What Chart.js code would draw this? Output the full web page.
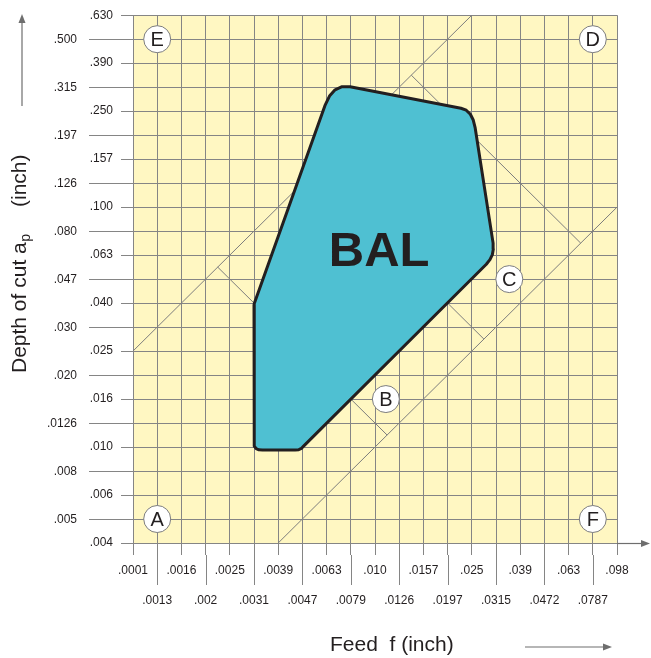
<!DOCTYPE html>
<html>
<head>
<meta charset="utf-8">
<script src="https://cdn.jsdelivr.net/npm/chart.js@4.4.1/dist/chart.umd.min.js"></script>
<style>
  html, body { margin: 0; padding: 0; background: #fff; }
  #wrap { width: 651px; height: 658px; }
</style>
</head>
<body>
<div id="wrap"><canvas id="chart" width="651" height="658"></canvas></div>
<script>
// tick labels, one per grid line (the axes are evenly spaced steps)
const feedLabels = ['.0001', '.0013', '.0016', '.002', '.0025', '.0031', '.0039', '.0047', '.0063', '.0079',
    '.010', '.0126', '.0157', '.0197', '.025', '.0315', '.039', '.0472', '.063', '.0787', '.098'];
const depthLabels = ['.004', '.005', '.006', '.008', '.010', '.0126', '.016', '.020', '.025', '.030', '.040', '.047',
    '.063', '.080', '.100', '.126', '.157', '.197', '.250', '.315', '.390', '.500', '.630'];

// BAL working area outline, in grid steps (feed step, depth step), rounded corners traced
const balX = [5.0, 5.0, 5.02, 5.09, 5.2, 5.35, 6.7, 6.85, 6.96, 7.05,
    14.6, 14.75, 14.85, 14.89, 14.88, 14.14, 14.06, 13.94, 13.77, 13.55,
    8.97, 8.64, 8.35, 8.12, 7.93, 5.0];
const balY = [9.95, 4.25, 4.04, 3.93, 3.885, 3.88, 3.88, 3.89, 3.94, 4.04,
    11.62, 11.81, 12.02, 12.25, 12.5, 17.3, 17.63, 17.87, 18.04, 18.12,
    19.02, 19.02, 18.89, 18.63, 18.23, 9.95];

// thin guide lines
const upperX = [0, 14];
const upperY = [8, 22];
const lowerX = [6, 20];
const lowerY = [0, 14];
const crossTopX = [11.5, 18.5];
const crossTopY = [19.5, 12.5];
const crossLeftX = [3.5, 5];
const crossLeftY = [11.5, 10];
const crossBX = [9, 10.5];
const crossBY = [6, 4.5];
const crossCX = [13, 14.5];
const crossCY = [10, 8.5];

// lettered zones
const zoneNames = ['A', 'B', 'C', 'D', 'E', 'F'];
const zoneX = [1, 10.45, 15.55, 19, 1, 19];
const zoneY = [1, 6, 11, 21, 21, 1];

const FONT = '"Liberation Sans", Arial, Helvetica, sans-serif';
const INK = '#231f20';
const GRID = '#858585';

function points(xs, ys) {
    return xs.map((x, i) => ({ x: x, y: ys[i] }));
}

function guide(xs, ys) {
    return {
        data: points(xs, ys),
        showLine: true,
        borderColor: '#7d7d7d',
        borderWidth: 1,
        pointRadius: 0,
        fill: false,
        order: 3
    };
}

function arrow(ctx, x1, y1, x2, y2) {
    const a = Math.atan2(y2 - y1, x2 - x1);
    ctx.beginPath();
    ctx.moveTo(x1, y1);
    ctx.lineTo(x2 - 6 * Math.cos(a), y2 - 6 * Math.sin(a));
    ctx.stroke();
    ctx.beginPath();
    ctx.moveTo(x2, y2);
    ctx.lineTo(x2 - 9 * Math.cos(a) + 3.5 * Math.sin(a), y2 - 9 * Math.sin(a) - 3.5 * Math.cos(a));
    ctx.lineTo(x2 - 9 * Math.cos(a) - 3.5 * Math.sin(a), y2 - 9 * Math.sin(a) + 3.5 * Math.cos(a));
    ctx.closePath();
    ctx.fill();
}

const paperPlugin = {
    id: 'paper',
    beforeDraw(chart) {
        const { ctx, chartArea: a } = chart;
        ctx.save();
        ctx.fillStyle = '#fff7c2';
        ctx.fillRect(a.left, a.top, a.right - a.left, a.bottom - a.top);
        ctx.restore();
    },
    afterDatasetsDraw(chart) {
        const { ctx } = chart;
        const xs = chart.scales.x, ys = chart.scales.y;
        ctx.save();
        ctx.fillStyle = INK;
        ctx.textAlign = 'center';
        ctx.textBaseline = 'middle';
        ctx.font = '20px ' + FONT;
        zoneNames.forEach((name, i) => {
            ctx.fillText(name, xs.getPixelForValue(zoneX[i]), ys.getPixelForValue(zoneY[i]) + 1);
        });
        ctx.font = 'bold 49px ' + FONT;
        ctx.fillText('BAL', xs.getPixelForValue(10.17), ys.getPixelForValue(12.19) + 2);
        ctx.restore();
    },
    afterDraw(chart) {
        const { ctx, chartArea: a } = chart;
        const xs = chart.scales.x, ys = chart.scales.y;
        ctx.save();
        ctx.strokeStyle = GRID;
        ctx.lineWidth = 1;

        // long ticks for the second row of labels
        for (let i = 1; i < feedLabels.length; i += 2) {
            const px = Math.round(xs.getPixelForValue(i)) + 0.5;
            ctx.beginPath();
            ctx.moveTo(px, a.bottom + 12);
            ctx.lineTo(px, a.bottom + 42);
            ctx.stroke();
        }
        ctx.fillStyle = INK;
        ctx.font = '12px ' + FONT;
        ctx.textAlign = 'right';
        ctx.textBaseline = 'middle';
        for (let i = 1; i < depthLabels.length; i += 2) {
            const py = Math.round(ys.getPixelForValue(i)) + 0.5;
            ctx.beginPath();
            ctx.moveTo(a.left - 12, py);
            ctx.lineTo(a.left - 44, py);
            ctx.stroke();
            ctx.fillText(depthLabels[i], a.left - 56, py);
        }

        // arrows
        ctx.strokeStyle = '#6e6e6e';
        ctx.fillStyle = '#6e6e6e';
        ctx.lineWidth = 1.2;
        arrow(ctx, a.right, a.bottom + 0.5, 650, a.bottom + 0.5);
        arrow(ctx, 22, 106, 22, 14);
        arrow(ctx, 525, 647, 612, 647);

        // axis titles
        ctx.fillStyle = INK;
        ctx.textAlign = 'left';
        ctx.textBaseline = 'middle';
        ctx.font = '21px ' + FONT;
        ctx.fillText('Feed  f (inch)', 330, 645);

        ctx.translate(26, 373);
        ctx.rotate(-Math.PI / 2);
        ctx.textBaseline = 'alphabetic';
        ctx.font = '21px ' + FONT;
        const main = 'Depth of cut a';
        ctx.fillText(main, 0, 0);
        const w = ctx.measureText(main).width;
        ctx.font = '14px ' + FONT;
        ctx.fillText('p', w + 0.5, 4);
        ctx.font = '21px ' + FONT;
        ctx.fillText('(inch)', 166, 0);
        ctx.restore();
    }
};

const ctx = document.getElementById('chart').getContext('2d');

new Chart(ctx, {
    type: 'scatter',
    data: {
        datasets: [
            {
                data: points(zoneX, zoneY),
                pointRadius: 13.5,
                pointHoverRadius: 13.5,
                pointBackgroundColor: '#ffffff',
                pointBorderColor: '#7d7d7d',
                pointBorderWidth: 1,
                order: 1
            },
            {
                data: points(balX, balY),
                showLine: true,
                fill: 'shape',
                backgroundColor: '#4fc0d2',
                borderColor: INK,
                borderWidth: 3,
                borderJoinStyle: 'round',
                pointRadius: 0,
                order: 2
            },
            guide(upperX, upperY),
            guide(lowerX, lowerY),
            guide(crossTopX, crossTopY),
            guide(crossLeftX, crossLeftY),
            guide(crossBX, crossBY),
            guide(crossCX, crossCY)
        ]
    },
    options: {
        responsive: false,
        animation: false,
        layout: { padding: { top: 11, right: 34, left: 0, bottom: 0 } },
        plugins: {
            legend: { display: false },
            tooltip: { enabled: false }
        },
        scales: {
            x: {
                type: 'linear',
                min: 0,
                max: 20,
                ticks: {
                    stepSize: 1,
                    autoSkip: false,
                    maxRotation: 0,
                    padding: 1,
                    color: INK,
                    font: { family: FONT, size: 12, lineHeight: 2.5 },
                    callback: (v) => {
                        const i = Math.round(v);
                        return i % 2 === 0 ? feedLabels[i] : ['', feedLabels[i]];
                    }
                },
                grid: { color: GRID, lineWidth: 1, tickLength: 12, tickColor: GRID },
                border: { color: GRID, width: 1 },
                afterFit: (s) => { s.height = 115; }
            },
            y: {
                type: 'linear',
                min: 0,
                max: 22,
                ticks: {
                    stepSize: 1,
                    autoSkip: false,
                    padding: 8,
                    color: INK,
                    font: { family: FONT, size: 12 },
                    callback: (v) => {
                        const i = Math.round(v);
                        return i % 2 === 0 ? depthLabels[i] : '';
                    }
                },
                grid: { color: GRID, lineWidth: 1, tickLength: 12, tickColor: GRID },
                border: { color: GRID, width: 1 },
                afterFit: (s) => { s.width = 133; }
            }
        }
    },
    plugins: [paperPlugin]
});
</script>
</body>
</html>
